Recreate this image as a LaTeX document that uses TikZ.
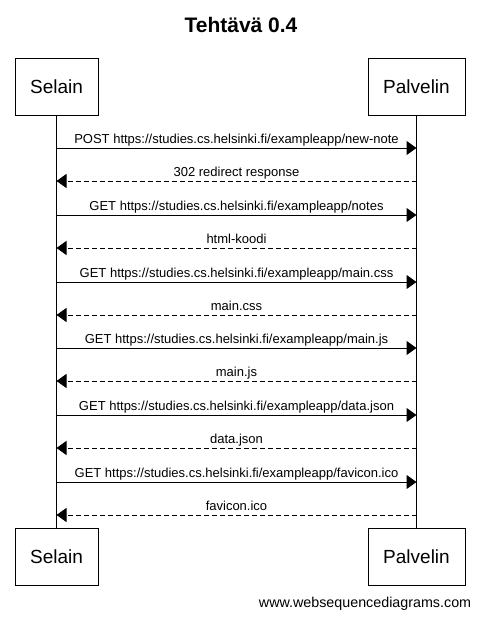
\documentclass[tikz,border=0pt]{standalone}
\usepackage{fontspec}
\setmainfont{Liberation Sans}
\usetikzlibrary{arrows.meta}
\usetikzlibrary{positioning}

\begin{document}
\begin{tikzpicture}[x=1pt,y=-1pt,line width=1pt,
    actor/.style={draw, minimum height=57pt, inner sep=0pt, font=\fontsize{19}{21}\selectfont},
    msg/.style={-{Triangle[length=10pt,width=14pt]}},
    reply/.style={msg, dash pattern=on 5pt off 3pt},
    lbl/.style={midway, anchor=south, inner sep=1.5pt, text height=9.5pt, text depth=2.5pt, font=\fontsize{13}{15}\selectfont}]
\useasboundingbox (0,0) rectangle (479,619);

\node[font=\bfseries\fontsize{21}{23}\selectfont] (title) at (241,25) {Tehtävä 0.4};

% participants
\node[actor, minimum width=83pt] (selT) at (56.5,86.5) {Selain};
\node[actor, minimum width=97pt] (palT) at (416.5,86.5) {Palvelin};
\node[actor, minimum width=83pt] (selB) at (56.5,556.5) {Selain};
\node[actor, minimum width=97pt] (palB) at (416.5,556.5) {Palvelin};

\draw (selT) -- (selB);
\draw (palT) -- (palB);

\foreach \i/\yy in {1/148,2/181,3/215,4/248,5/282,6/315,7/348,8/381,9/415,10/448,11/482,12/515}{
  \coordinate (s\i) at (selT.south |- 0,\yy);
  \coordinate (p\i) at (palT.south |- 0,\yy);
}

% messages
\draw[msg] (s1) -- (p1) node[lbl] {POST https://studies.cs.helsinki.fi/exampleapp/new-note};
\draw[reply] (p2) -- (s2) node[lbl] {302 redirect response};
\draw[msg] (s3) -- (p3) node[lbl] {GET https://studies.cs.helsinki.fi/exampleapp/notes};
\draw[reply] (p4) -- (s4) node[lbl] {html-koodi};
\draw[msg] (s5) -- (p5) node[lbl] {GET https://studies.cs.helsinki.fi/exampleapp/main.css};
\draw[reply] (p6) -- (s6) node[lbl] {main.css};
\draw[msg] (s7) -- (p7) node[lbl] {GET https://studies.cs.helsinki.fi/exampleapp/main.js};
\draw[reply] (p8) -- (s8) node[lbl] {main.js};
\draw[msg] (s9) -- (p9) node[lbl] {GET https://studies.cs.helsinki.fi/exampleapp/data.json};
\draw[reply] (p10) -- (s10) node[lbl] {data.json};
\draw[msg] (s11) -- (p11) node[lbl] {GET https://studies.cs.helsinki.fi/exampleapp/favicon.ico};
\draw[reply] (p12) -- (s12) node[lbl] {favicon.ico};

\node[font=\fontsize{14.3}{16}\selectfont, anchor=east] (wsd) at (475,604) {www.websequencediagrams.com};
\end{tikzpicture}
\end{document}
